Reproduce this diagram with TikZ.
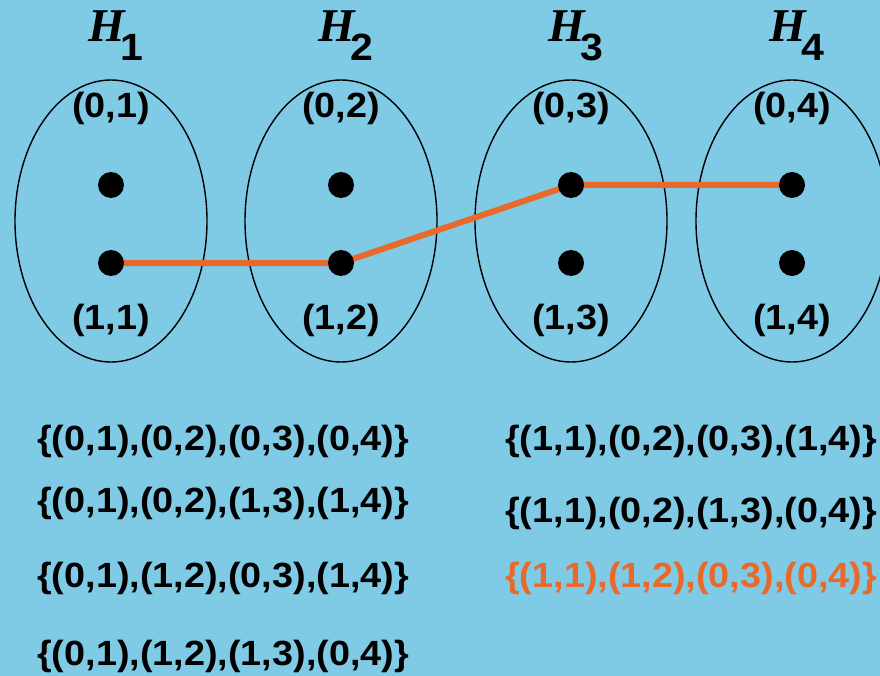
\documentclass[tikz,border=0pt]{standalone}
\usepackage{fontspec}
\usetikzlibrary{shapes.geometric}
\setmainfont{Liberation Sans}
\newfontfamily\hserif{Liberation Serif}
\newfontfamily\widesans[FakeStretch=1.08]{Liberation Sans}
\definecolor{bgblue}{HTML}{7FCAE5}
\definecolor{pathorange}{HTML}{E8692A}
\begin{document}
\begin{tikzpicture}[x=1pt,y=-1pt,
  hset/.style={draw=black,line width=1.4pt,ellipse,minimum width=192pt,minimum height=282pt,inner sep=0pt},
  vtx/.style={circle,fill=black,minimum size=26pt,inner sep=0pt},
  tlabel/.style={inner sep=0pt,font=\widesans\fontsize{35}{40}\selectfont\bfseries},
  hlabel/.style={inner sep=0pt,anchor=base},
  setlist/.style={inner sep=0pt,anchor=west,font=\widesans\fontsize{35}{40}\selectfont\bfseries},
  chosen/.style={line width=6pt,draw=pathorange}]
\fill[bgblue] (0,0) rectangle (880,676);
\useasboundingbox (0,0) rectangle (880,676);
\foreach \i/\x in {1/111,2/341,3/571,4/792}{
  \node[hset] (E\i) at (\x,221) {};
  \node[hlabel] (H\i) at (\x+5,42) {\hserif\bfseries\itshape\fontsize{47}{50}\selectfont H\kern-4pt\raisebox{-19pt}{\widesans\bfseries\upshape\fontsize{38}{40}\selectfont\i}};
  \node[tlabel] (T\i) at (\x,108) {(0,\i)};
  \node[tlabel] (B\i) at (\x,320) {(1,\i)};
  \coordinate (U\i) at (\x,185);
  \coordinate (D\i) at (\x,263);
}
\draw[chosen] (D1) -- (D2) -- (U3) -- (U4);
\foreach \i in {1,2,3,4}{
  \node[vtx] at (U\i) {};
  \node[vtx] at (D\i) {};
}
\node[setlist] (L1) at (37,441) {\{(0,1),(0,2),(0,3),(0,4)\}};
\node[setlist] (L2) at (37,503) {\{(0,1),(0,2),(1,3),(1,4)\}};
\node[setlist] (L3) at (37,578) {\{(0,1),(1,2),(0,3),(1,4)\}};
\node[setlist] (L4) at (37,656) {\{(0,1),(1,2),(1,3),(0,4)\}};
\node[setlist] (R1) at (505,441) {\{(1,1),(0,2),(0,3),(1,4)\}};
\node[setlist] (R2) at (505,513) {\{(1,1),(0,2),(1,3),(0,4)\}};
\node[setlist,text=pathorange] (R3) at (505,578) {\{(1,1),(1,2),(0,3),(0,4)\}};
\end{tikzpicture}
\end{document}
